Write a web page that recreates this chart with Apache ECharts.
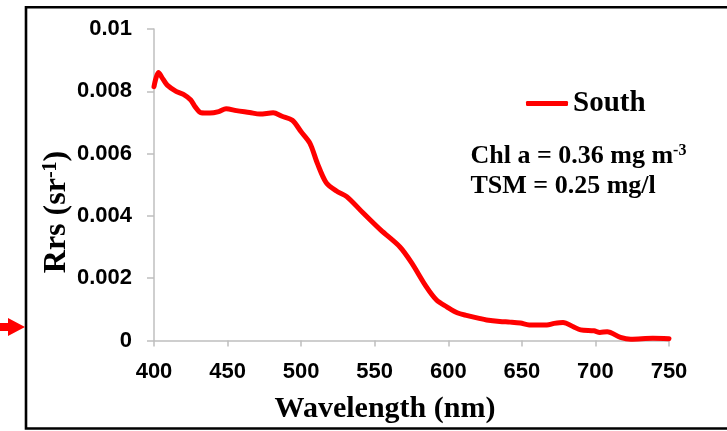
<!DOCTYPE html>
<html>
<head>
<meta charset="utf-8">
<title>Rrs spectrum – South</title>
<script src="https://cdn.jsdelivr.net/npm/echarts@6/dist/echarts.min.js"></script>
<style>
  html, body { margin: 0; padding: 0; background: #fff; }
  #chart { width: 727px; height: 431px; }
</style>
</head>
<body>
<div id="chart"></div>
<script>
// Remote sensing reflectance spectrum, South station
const wavelengths = [400, 403, 406, 409, 415, 420, 425, 428, 432, 438, 444, 449, 456, 465, 472, 481, 487, 494, 500, 506, 511, 517, 524, 531, 542, 554, 567, 575, 585, 592, 599, 606, 613, 621, 626, 635, 642, 649, 655, 667, 672, 678, 685, 690, 699, 703, 708, 717, 724, 739, 750];
const rrsSouth = [0.00815, 0.0086, 0.0084, 0.0082, 0.0080, 0.0079, 0.00772, 0.0075, 0.00731, 0.0073, 0.00735, 0.00744, 0.00738, 0.00732, 0.00727, 0.00731, 0.0072, 0.00707, 0.0067, 0.00633, 0.00569, 0.00507, 0.0048, 0.00462, 0.0041, 0.00355, 0.00301, 0.0025, 0.00173, 0.0013, 0.00108, 0.00089, 0.0008, 0.00071, 0.00066, 0.00061, 0.00059, 0.00056, 0.0005, 0.0005, 0.00055, 0.00058, 0.00044, 0.00034, 0.00031, 0.00026, 0.00028, 0.0001, 0.00004, 0.00007, 0.00006];
const yTickLabels = ['0', '0.002', '0.004', '0.006', '0.008', '0.01'];
const xTickLabels = ['400', '450', '500', '550', '600', '650', '700', '750'];

const seriesName = 'South';
const chlText = 'Chl a = 0.36 mg m';
const chlSup = '-3';
const tsmText = 'TSM = 0.25 mg/l';

const serif = '"Liberation Serif", "Times New Roman", serif';
const sans = '"Liberation Sans", Arial, sans-serif';
const axisGrey = '#bfbfbf';

const chart = echarts.init(document.getElementById('chart'), null, { renderer: 'canvas' });

chart.setOption({
  animation: false,
  backgroundColor: '#fff',
  grid: { left: 154, right: 58, top: 29, bottom: 90.5 },
  legend: {
    data: [seriesName],
    left: 526,
    top: 89,
    padding: 0,
    icon: 'roundRect',
    itemWidth: 42,
    itemHeight: 5,
    textStyle: { fontFamily: serif, fontWeight: 'bold', fontSize: 29, color: '#000' }
  },
  xAxis: {
    type: 'value',
    min: 400,
    max: 750,
    interval: 50,
    axisLine: { show: true, lineStyle: { color: axisGrey, width: 1.5 } },
    axisTick: { show: true, length: 6, lineStyle: { color: axisGrey, width: 1.5 } },
    splitLine: { show: false },
    axisLabel: {
      margin: 20,
      fontFamily: sans, fontWeight: 'bold', fontSize: 22, color: '#000',
      formatter: (v, i) => xTickLabels[i]
    }
  },
  yAxis: {
    type: 'value',
    min: 0,
    max: 0.01,
    interval: 0.002,
    axisLine: { show: true, lineStyle: { color: axisGrey, width: 1.5 } },
    axisTick: { show: true, length: 7, lineStyle: { color: axisGrey, width: 1.5 } },
    splitLine: { show: false },
    axisLabel: {
      margin: 22,
      fontFamily: sans, fontWeight: 'bold', fontSize: 22, color: '#000',
      formatter: (v, i) => yTickLabels[i]
    }
  },
  series: [{
    name: seriesName,
    type: 'line',
    data: wavelengths.map((w, i) => [w, rrsSouth[i]]),
    smooth: 0.3,
    symbol: 'none',
    color: '#ff0000',
    lineStyle: { color: '#ff0000', width: 5, cap: 'round', join: 'round' }
  }],
  graphic: [
    // outer frame (open on the right side)
    {
      type: 'rect', silent: true,
      shape: { x: 26, y: 7.2, width: 720, height: 421.3 },
      style: { fill: 'none', stroke: '#000', lineWidth: 2.6 }
    },
    // marker arrow pointing at the frame
    {
      type: 'polygon', silent: true,
      shape: { points: [[0, 323], [8, 323], [8, 318], [25, 327], [8, 336], [8, 331], [0, 331]] },
      style: { fill: '#ff0000' }
    },
    // axis titles
    {
      type: 'text', silent: true,
      x: 385, y: 409,
      style: {
        text: 'Wavelength (nm)',
        font: 'bold 30px ' + serif,
        fill: '#000', align: 'center', verticalAlign: 'middle'
      }
    },
    {
      type: 'text', silent: true,
      x: 57, y: 212, rotation: Math.PI / 2,
      style: {
        text: '{a|Rrs (sr}{s|-1}{a|)}',
        align: 'center', verticalAlign: 'middle',
        rich: {
          a: { fontFamily: serif, fontWeight: 'bold', fontSize: 32, fill: '#000', color: '#000' },
          s: { fontFamily: serif, fontWeight: 'bold', fontSize: 20, fill: '#000', color: '#000', verticalAlign: 'top' }
        }
      }
    },
    // water quality annotation
    {
      type: 'text', silent: true,
      x: 470.5, y: 156,
      style: {
        text: '{a|' + chlText + '}{s|' + chlSup + '}',
        align: 'left', verticalAlign: 'middle',
        rich: {
          a: { fontFamily: serif, fontWeight: 'bold', fontSize: 26, fill: '#000', color: '#000' },
          s: { fontFamily: serif, fontWeight: 'bold', fontSize: 16, fill: '#000', color: '#000', verticalAlign: 'top' }
        }
      }
    },
    {
      type: 'text', silent: true,
      x: 470.5, y: 186,
      style: {
        text: tsmText,
        font: 'bold 26px ' + serif,
        fill: '#000', align: 'left', verticalAlign: 'middle'
      }
    }
  ]
});
</script>
</body>
</html>
